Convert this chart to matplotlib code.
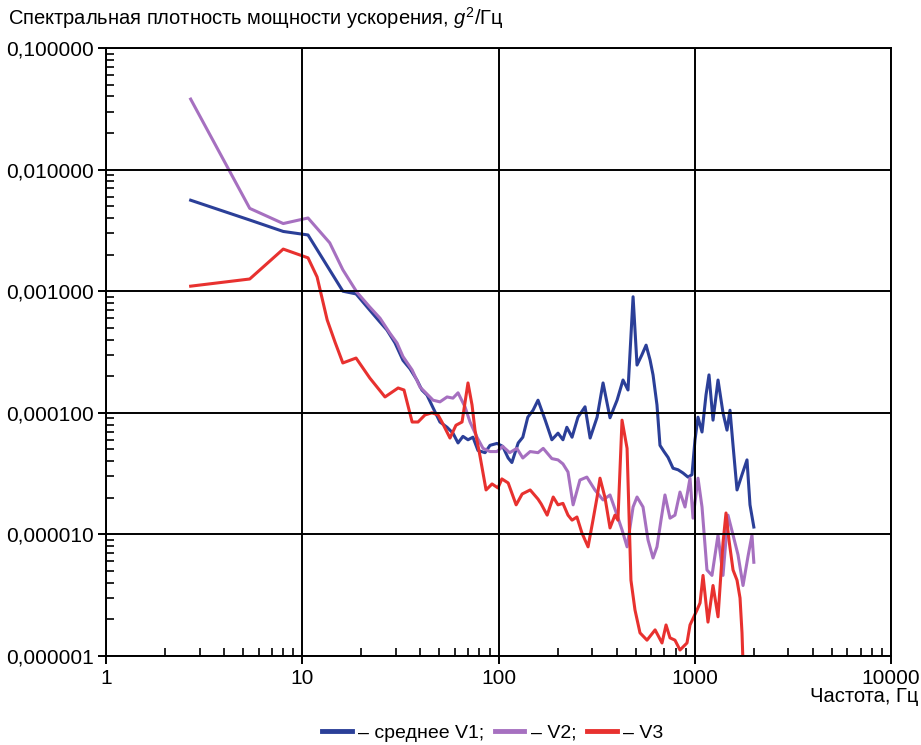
import matplotlib
matplotlib.use("Agg")

import matplotlib.pyplot as plt
from matplotlib.ticker import FuncFormatter, LogLocator, NullFormatter

plt.rcParams['font.family'] = ['Liberation Sans', 'DejaVu Sans']
plt.rcParams['mathtext.fontset'] = 'custom'
plt.rcParams['mathtext.rm'] = 'Liberation Sans'
plt.rcParams['mathtext.it'] = 'Liberation Sans:italic'

# PSD of acceleration, g^2/Hz, vs frequency, Hz
v1_freq = [2.7, 5.4, 8.0, 10.7, 16.1, 18.8, 21.9, 24.6, 27.0, 29.7, 32.6, 35.4,
           38.4, 40.7, 43.2, 46.4, 50.3, 54.7, 58.6, 62.2, 65.9, 69.9, 74.1, 78.6,
           85.4, 90.5, 98.3, 105, 112, 117, 126, 133, 141, 150, 159, 173, 187, 201,
           213, 223, 237, 254, 276, 293, 318, 341, 370, 402, 431, 457, 485, 508,
           538, 565, 592, 613, 642, 665, 697, 731, 775, 822, 871, 924, 968, 1003,
           1039, 1089, 1141, 1182, 1239, 1314, 1393, 1460, 1512, 1567, 1642, 1741,
           1846, 1912, 2000]
v1_psd = [5.6e-3, 3.85e-3, 3.1e-3, 2.9e-3, 1.0e-3, 9.5e-4, 7.1e-4, 5.7e-4, 4.8e-4,
          3.75e-4, 2.7e-4, 2.3e-4, 1.86e-4, 1.54e-4, 1.40e-4, 1.10e-4, 8.4e-5, 7.6e-5,
          6.8e-5, 5.65e-5, 6.4e-5, 6.0e-5, 6.3e-5, 4.9e-5, 4.7e-5, 5.4e-5, 5.6e-5,
          5.3e-5, 4.25e-5, 3.9e-5, 5.65e-5, 6.3e-5, 9.2e-5, 1.05e-4, 1.27e-4, 8.7e-5,
          6.0e-5, 6.8e-5, 6.0e-5, 7.6e-5, 6.3e-5, 9.2e-5, 1.12e-4, 6.2e-5, 9.2e-5,
          1.76e-4, 9.1e-5, 1.27e-4, 1.86e-4, 1.54e-4, 9.0e-4, 2.47e-4, 3.0e-4,
          3.6e-4, 2.72e-4, 2.05e-4, 1.16e-4, 5.4e-5, 4.8e-5, 4.3e-5, 3.5e-5, 3.4e-5,
          3.2e-5, 2.96e-5, 3.1e-5, 6.0e-5, 9.2e-5, 6.95e-5, 1.40e-4, 2.05e-4, 8.7e-5,
          1.86e-4, 1.0e-4, 7.2e-5, 1.05e-4, 5.4e-5, 2.32e-5, 3.1e-5, 4.1e-5, 1.75e-5,
          1.15e-5]

v2_freq = [2.7, 5.4, 8.0, 10.7, 13.8, 16.1, 19.0, 22.1, 24.9, 28.0, 30.4, 32.6,
           36.3, 39.8, 46.4, 50.3, 54.7, 58.6, 62.2, 67.5, 71.6, 77.7, 83.4, 90.5,
           98.3, 105, 114, 124, 133, 145, 159, 169, 187, 201, 213, 226, 240, 260,
           282, 310, 341, 370, 402, 426, 452, 485, 508, 545, 578, 613, 642, 673,
           705, 748, 793, 841, 892, 946, 980, 1039, 1089, 1154, 1224, 1314, 1393,
           1477, 1567, 1661, 1762, 1868, 1957, 2000]
v2_psd = [0.038, 4.8e-3, 3.6e-3, 4.0e-3, 2.5e-3, 1.5e-3, 9.8e-4, 7.4e-4, 6.0e-4,
          4.5e-4, 3.75e-4, 2.9e-4, 2.25e-4, 1.63e-4, 1.27e-4, 1.23e-4, 1.35e-4,
          1.32e-4, 1.46e-4, 1.12e-4, 8.4e-5, 6.3e-5, 5.1e-5, 4.8e-5, 4.8e-5, 5.3e-5,
          4.7e-5, 5.1e-5, 4.25e-5, 4.8e-5, 4.7e-5, 5.1e-5, 4.2e-5, 4.1e-5, 3.8e-5,
          3.26e-5, 1.75e-5, 2.8e-5, 2.96e-5, 2.32e-5, 1.92e-5, 2.11e-5, 1.44e-5,
          1.09e-5, 7.9e-6, 1.68e-5, 2.03e-5, 1.68e-5, 9.0e-6, 6.4e-6, 7.9e-6,
          1.31e-5, 2.11e-5, 1.36e-5, 1.44e-5, 2.23e-5, 1.68e-5, 2.9e-5, 1.36e-5,
          2.9e-5, 1.68e-5, 5.1e-6, 4.6e-6, 9.9e-6, 4.6e-6, 1.44e-5, 9.9e-6, 6.8e-6,
          3.8e-6, 6.6e-6, 9.9e-6, 5.9e-6]

v3_freq = [2.7, 5.4, 8.0, 10.7, 11.9, 13.4, 14.7, 16.1, 18.8, 22.1, 26.4, 30.8,
           33.0, 36.3, 38.9, 42.2, 45.8, 49.2, 51.5, 56.6, 60.7, 65.2, 69.9, 73.3,
           75.9, 80.5, 86.4, 92.7, 99.4, 104, 112, 123, 132, 145, 159, 165, 177,
           190, 201, 213, 226, 237, 251, 266, 286, 303, 318, 329, 349, 370, 392,
           406, 426, 452, 473, 496, 526, 571, 628, 681, 714, 748, 793, 841, 913,
           946, 1027, 1064, 1102, 1168, 1239, 1314, 1393, 1443, 1494, 1567, 1642,
           1701, 1741, 1782]
v3_psd = [1.1e-3, 1.26e-3, 2.22e-3, 1.88e-3, 1.31e-3, 5.8e-4, 3.8e-4, 2.57e-4,
          2.82e-4, 1.93e-4, 1.35e-4, 1.6e-4, 1.54e-4, 8.4e-5, 8.4e-5, 9.6e-5, 1.0e-4,
          9.6e-5, 8.4e-5, 6.2e-5, 7.9e-5, 8.4e-5, 1.76e-4, 1.16e-4, 7.2e-5, 4.4e-5,
          2.32e-5, 2.6e-5, 2.41e-5, 2.86e-5, 2.65e-5, 1.75e-5, 2.15e-5, 2.32e-5,
          1.95e-5, 1.78e-5, 1.44e-5, 2.03e-5, 1.75e-5, 1.8e-5, 1.44e-5, 1.31e-5,
          1.39e-5, 1.03e-5, 7.9e-6, 1.31e-5, 2.03e-5, 2.9e-5, 2.0e-5, 1.13e-5,
          1.44e-5, 1.31e-5, 8.7e-5, 5.1e-5, 4.2e-6, 2.39e-6, 1.55e-6, 1.35e-6,
          1.64e-6, 1.28e-6, 1.8e-6, 1.41e-6, 1.35e-6, 1.12e-6, 1.28e-6, 1.8e-6,
          2.39e-6, 2.73e-6, 4.6e-6, 1.9e-6, 3.8e-6, 2.1e-6, 8.5e-6, 1.5e-5, 9.0e-6,
          5.1e-6, 4.2e-6, 3.0e-6, 1.55e-6, 5e-7]

labels = ['– среднее V1;', '– V2;', '– V3']
colors = ['#2b3f98', '#a670c0', '#e8312f']

fig = plt.figure(figsize=(9.21, 7.45), dpi=100)
ax = fig.add_axes([106 / 921, 89 / 745, 785 / 921, 608 / 745])

for fr, psd, lab, col in zip([v1_freq, v2_freq, v3_freq],
                             [v1_psd, v2_psd, v3_psd], labels, colors):
    ax.plot(fr, psd, color=col, lw=2.2, label=lab, solid_joinstyle='round')

ax.set_xscale('log')
ax.set_yscale('log')
ax.set_xlim(1, 10000)
ax.set_ylim(1e-6, 0.1)

ax.grid(True, which='major', color='black', lw=1.4)
ax.set_axisbelow(False)
for s in ax.spines.values():
    s.set_linewidth(1.4)

ax.xaxis.set_major_locator(LogLocator(base=10, numticks=10))
ax.yaxis.set_major_locator(LogLocator(base=10, numticks=10))
ax.xaxis.set_minor_locator(LogLocator(base=10, subs=range(2, 10), numticks=20))
ax.yaxis.set_minor_locator(LogLocator(base=10, subs=range(2, 10), numticks=20))
ax.xaxis.set_minor_formatter(NullFormatter())
ax.yaxis.set_minor_formatter(NullFormatter())
ax.xaxis.set_major_formatter(FuncFormatter(lambda v, p: f"{v:.0f}"))
ax.yaxis.set_major_formatter(FuncFormatter(lambda v, p: f"{v:.6f}".replace('.', ',')))

ax.tick_params(which='major', direction='out', length=6, width=1.4,
               labelsize=15, pad=3)
ax.tick_params(which='minor', direction='in', length=5.5, width=1.2)

fig.text(8 / 921, 1 - 18 / 745, 'Спектральная плотность мощности ускорения, $g^2$/Гц',
         fontsize=14.5, ha='left', va='center')
fig.text(918 / 921, 1 - 697 / 745, 'Частота, Гц', fontsize=14.5, ha='right', va='center')

leg = fig.legend(loc='center', bbox_to_anchor=(493 / 921, 1 - 733 / 745), ncol=3,
                 frameon=False, fontsize=14, handlelength=1.5, handletextpad=0.35,
                 columnspacing=0.55)
for line in leg.get_lines():
    line.set_linewidth(3.5)

fig.savefig('out.png', dpi=100)
